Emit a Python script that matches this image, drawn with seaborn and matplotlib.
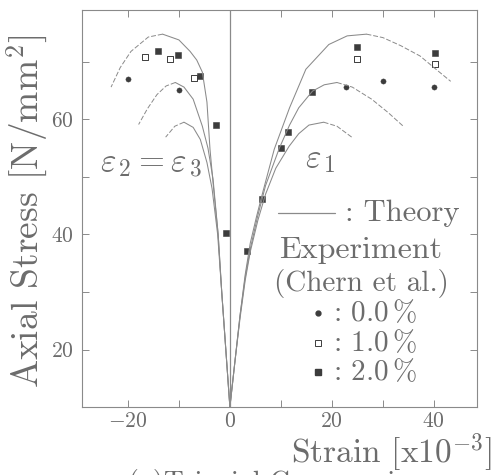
import numpy as np
import pandas as pd
import matplotlib
matplotlib.use("Agg")
import matplotlib.pyplot as plt
import seaborn as sns

# experimental points (Chern et al.), strain x1e-3 and axial stress N/mm2
exp00_x = [-19.9, -9.9, 22.8, 30.0, 40.0]
exp00_y = [67.0, 65.1, 65.7, 66.6, 65.6]
exp10_x = [-16.6, -11.7, -7.0, 25.0, 40.2]
exp10_y = [70.8, 70.4, 67.1, 70.4, 69.6]
exp20_x = [-14.0, -10.1, -5.8, -2.8, -0.8, 3.3, 6.3, 10.1, 11.4, 16.1, 25.0, 40.2]
exp20_y = [71.8, 71.1, 67.5, 59.0, 40.3, 37.2, 46.2, 55.1, 57.8, 64.7, 72.5, 71.5]

# theory curves, from the origin outwards
left_top_x = [0, -0.8, -1.6, -2.3, -3.2, -3.9, -4.5, -5.4, -6.5, -7.8, -10.0, -13.2, -16.0, -19.4, -21.5, -23.3]
left_top_y = [10, 20, 30, 40, 48, 54.8, 63.0, 68.2, 70.3, 71.8, 73.8, 74.8, 74.3, 71.8, 69.0, 65.6]
left_mid_x = [0, -0.8, -1.6, -2.3, -3.3, -4.3, -5.4, -7.2, -9.0, -10.7, -12.5, -14.3, -16.2, -17.9]
left_mid_y = [10, 20, 30, 40, 49.6, 55.0, 58.8, 63.5, 65.6, 66.4, 65.8, 64.3, 61.8, 59.1]
left_low_x = [0, -0.8, -1.6, -2.4, -3.5, -4.5, -5.8, -7.2, -9.0, -10.8, -12.6]
left_low_y = [10, 20, 30, 40, 48.0, 52.5, 56.5, 58.6, 59.5, 58.8, 56.9]
right_top_x = [0, 1, 2, 3, 4, 5.2, 6.5, 8.7, 11.7, 14.9, 19.4, 23.0, 26.8, 30.0, 33.5, 37.3, 40.0, 43.3]
right_top_y = [10, 18, 26, 33, 38.5, 43, 47.5, 54.8, 62.0, 68.7, 73.0, 74.5, 74.8, 74.2, 72.8, 71.0, 69.0, 66.6]
right_mid_x = [0, 1, 2, 3, 4, 5.4, 7.0, 9.7, 11.7, 13.5, 16.2, 18.5, 21.0, 24.0, 27.8, 31.0, 34.0]
right_mid_y = [10, 18, 26, 32.5, 37.5, 43, 48.5, 55.0, 59.0, 62.0, 64.9, 66.0, 66.4, 65.6, 63.5, 61.2, 58.8]
right_low_x = [0, 1, 2, 3, 4, 5.5, 7.0, 9.0, 11.6, 13.5, 15.5, 18.4, 21.0, 23.9]
right_low_y = [10, 18, 25.5, 32, 37, 42.5, 47, 51.5, 55.3, 57.5, 59.0, 59.5, 58.8, 56.9]

theory = [(left_top_x, left_top_y), (left_mid_x, left_mid_y), (left_low_x, left_low_y),
          (right_top_x, right_top_y), (right_mid_x, right_mid_y), (right_low_x, right_low_y)]

sns.set_style("ticks")
plt.rcParams['font.family'] = ['cmr10', 'DejaVu Serif']
plt.rcParams['mathtext.fontset'] = 'cm'
plt.rcParams['axes.formatter.use_mathtext'] = True
plt.rcParams['axes.unicode_minus'] = True

txt = '#6c6c6c'
line_c = '#8a8a8a'
mark_c = '#3c3c3c'

fig = plt.figure(figsize=(4.94, 4.75), dpi=100)
ax = fig.add_axes([0.166, 0.143, 0.80, 0.836])

for cx, cy in theory:
    k = int(np.argmax(cy))
    inner = pd.DataFrame({'x': cx[:k + 1], 'y': cy[:k + 1]})
    outer = pd.DataFrame({'x': cx[k:], 'y': cy[k:]})
    sns.lineplot(data=inner, x='x', y='y', sort=False, estimator=None, ax=ax,
                 color=line_c, linewidth=0.75)
    sns.lineplot(data=outer, x='x', y='y', sort=False, estimator=None, ax=ax,
                 color=line_c, linewidth=0.7, linestyle=(0, (5, 2)))

ax.axvline(0, color=line_c, linewidth=0.9)

sns.scatterplot(x=exp00_x, y=exp00_y, ax=ax, marker='o', s=14, color=mark_c, edgecolor=mark_c)
sns.scatterplot(x=exp10_x, y=exp10_y, ax=ax, marker='s', s=22, facecolor='white',
                edgecolor=mark_c, linewidth=0.7)
sns.scatterplot(x=exp20_x, y=exp20_y, ax=ax, marker='s', s=24, color=mark_c, edgecolor=mark_c)

ax.set_xlim(-29, 48.5)
ax.set_ylim(10, 79)
ax.set_xticks([-20, 0, 20, 40])
ax.set_xticks([-10, 10, 30], minor=True)
ax.set_yticks([20, 40, 60])
ax.set_yticks([30, 50, 70], minor=True)
ax.tick_params(which='both', direction='in', top=True, right=True, length=5,
               width=0.7, color=line_c, labelcolor=txt, labelsize=15.5)
ax.tick_params(axis='x', pad=3)
ax.tick_params(axis='y', pad=6)
for s in ax.spines.values():
    s.set_color(line_c)
    s.set_linewidth(0.8)

ax.set_xlabel('')
ax.set_ylabel('')
fig.text(0.055, 0.555, 'Axial Stress [N/mm$^2$]', rotation=90, ha='center', va='center',
         fontsize=27, color=txt)
fig.text(0.995, 0.047, 'Strain [x10$^{-3}$]', ha='right', va='center', fontsize=24, color=txt)
fig.text(0.26, 0.012, '(a)Triaxial Compression', ha='left', va='top', fontsize=20, color=txt)

ax.text(0.045, 0.61, r'$\varepsilon_{\,2} = \varepsilon_{\,3}$', transform=ax.transAxes,
        fontsize=24, color=txt, va='center')
ax.text(0.565, 0.62, r'$\varepsilon_{\,1}$', transform=ax.transAxes,
        fontsize=24, color=txt, va='center')

ax.plot([0.496, 0.641], [0.489, 0.489], transform=ax.transAxes, color=line_c, linewidth=0.9)
ax.text(0.665, 0.489, ': Theory', transform=ax.transAxes, fontsize=22, color=txt, va='center')
ax.text(0.706, 0.395, 'Experiment', transform=ax.transAxes, fontsize=23, color=txt,
        va='center', ha='center')
ax.text(0.706, 0.312, '(Chern et al.)', transform=ax.transAxes, fontsize=21, color=txt,
        va='center', ha='center')
ax.plot([0.597], [0.237], 'o', transform=ax.transAxes, ms=3.5, color=mark_c)
ax.plot([0.597], [0.161], 's', transform=ax.transAxes, ms=4.5, mfc='white', mec=mark_c, mew=0.7)
ax.plot([0.597], [0.088], 's', transform=ax.transAxes, ms=4.5, color=mark_c)
for yy, lab in zip([0.237, 0.161, 0.088], ['0.0', '1.0', '2.0']):
    ax.text(0.635, yy, ': ' + lab + r'$\,$%', transform=ax.transAxes, fontsize=21,
            color=txt, va='center')

fig.savefig('out.png', dpi=100)
